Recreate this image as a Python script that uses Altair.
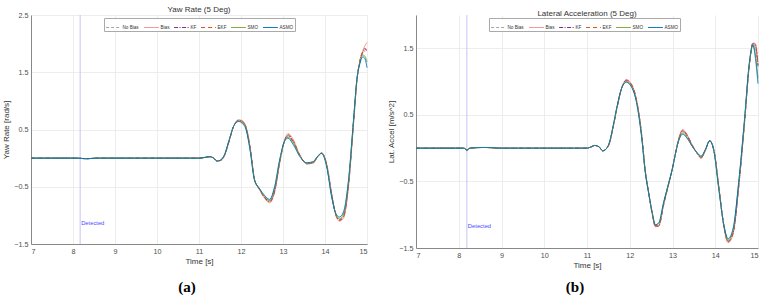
import altair as alt
import pandas as pd

SERIES = ["No Bias", "Bias", "KF", "EKF", "SMO", "ASMO"]
COLORS = ["#a6a6a6", "#f29494", "#7e2f8e", "#d95319", "#77ac30", "#0072bd"]
DASHES = [[3, 2], [1, 0], [4, 1.5, 1, 1.5], [4, 3], [1, 0], [1, 0]]
WIDTHS = [1, 1, 1.2, 1.2, 1.4, 2.2]

# ---------------- Yaw rate panel ----------------
T_YAW = [7.0, 8.1, 8.2, 8.3, 8.6, 11.0, 11.12, 11.25, 11.35, 11.43, 11.52, 11.6, 11.72, 11.82,
         11.94, 12.04, 12.12, 12.22, 12.32, 12.44, 12.56, 12.68, 12.8, 12.92, 13.04, 13.12,
         13.24, 13.4, 13.56, 13.72, 13.82, 13.92, 14.04, 14.16, 14.26, 14.34, 14.44, 14.56,
         14.68, 14.76, 14.83, 14.9, 14.95, 15.0]
YAW_NOBIAS = [0, 0, -0.005, -0.01, 0, 0, 0.01, 0.025, 0.0, -0.05, -0.035, 0.04, 0.31, 0.55,
              0.66, 0.63, 0.53, 0.15, -0.37, -0.54, -0.68, -0.75, -0.56, -0.06, 0.31, 0.40,
              0.29, 0.05, -0.09, -0.07, 0.02, 0.09, -0.12, -0.66, -0.99, -1.07, -1.0, -0.43,
              0.64, 1.37, 1.68, 1.84, 1.87, 1.85]
YAW_BIAS = [0, 0, -0.005, -0.01, 0, 0, 0.01, 0.025, 0.0, -0.05, -0.04, 0.03, 0.30, 0.55,
            0.67, 0.65, 0.55, 0.18, -0.36, -0.55, -0.70, -0.78, -0.60, -0.10, 0.32, 0.43,
            0.33, 0.06, -0.10, -0.09, 0.02, 0.09, -0.10, -0.62, -1.0, -1.10, -1.05, -0.50,
            0.60, 1.35, 1.70, 1.88, 1.96, 2.02]
YAW_KF = [0, 0, -0.005, -0.01, 0, 0, 0.01, 0.025, 0.0, -0.05, -0.035, 0.04, 0.31, 0.55,
          0.66, 0.63, 0.53, 0.16, -0.37, -0.54, -0.68, -0.76, -0.57, -0.07, 0.31, 0.39,
          0.29, 0.05, -0.09, -0.08, 0.02, 0.09, -0.12, -0.65, -0.99, -1.08, -1.02, -0.45,
          0.63, 1.36, 1.69, 1.85, 1.90, 1.88]
YAW_EKF = [0, 0, -0.005, -0.01, 0, 0, 0.01, 0.025, 0.0, -0.05, -0.04, 0.035, 0.30, 0.55,
           0.66, 0.64, 0.54, 0.17, -0.37, -0.55, -0.69, -0.77, -0.58, -0.08, 0.31, 0.41,
           0.31, 0.05, -0.10, -0.08, 0.02, 0.09, -0.11, -0.64, -1.0, -1.09, -1.03, -0.47,
           0.62, 1.36, 1.70, 1.86, 1.92, 1.88]
YAW_SMO = [0, 0, -0.005, -0.01, 0, 0, 0.01, 0.025, 0.0, -0.05, -0.03, 0.045, 0.32, 0.55,
           0.65, 0.62, 0.52, 0.14, -0.37, -0.54, -0.67, -0.74, -0.53, -0.05, 0.30, 0.37,
           0.27, 0.04, -0.09, -0.07, 0.02, 0.09, -0.13, -0.67, -0.98, -1.06, -0.98, -0.41,
           0.66, 1.37, 1.67, 1.80, 1.78, 1.68]
YAW_ASMO = [0, 0, -0.005, -0.01, 0, 0, 0.01, 0.025, 0.0, -0.05, -0.03, 0.05, 0.32, 0.55,
            0.64, 0.60, 0.50, 0.12, -0.38, -0.53, -0.65, -0.72, -0.50, -0.03, 0.30, 0.35,
            0.24, 0.03, -0.08, -0.06, 0.03, 0.08, -0.15, -0.68, -0.97, -1.03, -0.94, -0.38,
            0.68, 1.38, 1.65, 1.77, 1.74, 1.58]

# ---------------- Lateral acceleration panel ----------------
T_LAT = [7.0, 8.12, 8.19, 8.26, 8.6, 9.0, 11.0, 11.1, 11.18, 11.28, 11.37, 11.45, 11.52, 11.6,
         11.7, 11.81, 11.92, 12.02, 12.16, 12.28, 12.36, 12.45, 12.52, 12.6, 12.68, 12.79,
         12.9, 13.0, 13.07, 13.15, 13.24, 13.35, 13.46, 13.58, 13.67, 13.77, 13.87, 13.97,
         14.08, 14.2, 14.3, 14.42, 14.55, 14.68, 14.8, 14.88, 14.94, 15.0]
LAT_NOBIAS = [0, 0, -0.03, 0, 0.01, 0, 0, 0.02, 0.04, 0.02, -0.04, -0.01, 0.07, 0.29, 0.61,
              0.9, 1.01, 0.96, 0.70, 0.18, -0.33, -0.70, -0.96, -1.16, -1.15, -0.85, -0.56,
              -0.30, -0.08, 0.14, 0.25, 0.17, 0.04, -0.08, -0.14, -0.03, 0.11, -0.04, -0.58,
              -1.16, -1.39, -1.25, -0.55, 0.36, 1.27, 1.56, 1.50, 1.22]
LAT_BIAS = [0, 0, -0.03, 0, 0.01, 0, 0, 0.02, 0.04, 0.02, -0.04, -0.01, 0.06, 0.28, 0.60,
            0.9, 1.03, 0.98, 0.72, 0.20, -0.32, -0.70, -0.97, -1.18, -1.17, -0.86, -0.57,
            -0.30, -0.08, 0.15, 0.28, 0.19, 0.05, -0.08, -0.15, -0.03, 0.11, -0.03, -0.56,
            -1.17, -1.42, -1.28, -0.58, 0.34, 1.26, 1.58, 1.57, 1.27]
LAT_KF = [0, 0, -0.03, 0, 0.01, 0, 0, 0.02, 0.04, 0.02, -0.04, -0.01, 0.065, 0.28, 0.60,
          0.9, 1.02, 0.97, 0.71, 0.19, -0.32, -0.70, -0.96, -1.17, -1.16, -0.85, -0.56,
          -0.30, -0.08, 0.14, 0.26, 0.18, 0.04, -0.08, -0.14, -0.03, 0.11, -0.04, -0.57,
          -1.16, -1.40, -1.27, -0.57, 0.35, 1.26, 1.57, 1.54, 1.24]
LAT_EKF = [0, 0, -0.03, 0, 0.01, 0, 0, 0.02, 0.04, 0.02, -0.04, -0.01, 0.06, 0.28, 0.60,
           0.9, 1.02, 0.98, 0.72, 0.20, -0.32, -0.70, -0.97, -1.18, -1.17, -0.86, -0.57,
           -0.30, -0.08, 0.15, 0.27, 0.19, 0.05, -0.08, -0.15, -0.03, 0.11, -0.03, -0.56,
           -1.17, -1.41, -1.27, -0.57, 0.35, 1.26, 1.58, 1.55, 1.26]
LAT_SMO = [0, 0, -0.03, 0, 0.01, 0, 0, 0.02, 0.04, 0.02, -0.04, -0.01, 0.07, 0.29, 0.61,
           0.9, 1.0, 0.95, 0.69, 0.17, -0.34, -0.70, -0.95, -1.15, -1.13, -0.83, -0.55,
           -0.30, -0.08, 0.13, 0.23, 0.15, 0.03, -0.08, -0.13, -0.02, 0.11, -0.05, -0.59,
           -1.15, -1.38, -1.22, -0.52, 0.38, 1.28, 1.55, 1.40, 1.05]
LAT_ASMO = [0, 0, -0.03, 0, 0.01, 0, 0, 0.02, 0.04, 0.02, -0.04, -0.01, 0.08, 0.30, 0.62,
            0.9, 0.99, 0.94, 0.68, 0.15, -0.35, -0.70, -0.95, -1.15, -1.12, -0.82, -0.55,
            -0.30, -0.08, 0.12, 0.21, 0.14, 0.03, -0.07, -0.12, -0.02, 0.11, -0.05, -0.60,
            -1.15, -1.36, -1.20, -0.50, 0.40, 1.30, 1.55, 1.35, 0.97]

DETECT_T_YAW = 8.17
DETECT_T_LAT = 8.19

FONT = "Liberation Sans"


def long_df(times, series_lists):
    rows = []
    for name, vals in zip(SERIES, series_lists):
        for i, (t, v) in enumerate(zip(times, vals)):
            rows.append({"t": t, "v": v, "series": name, "order": i})
    return pd.DataFrame(rows)


def make_panel(times, series_lists, detect_t, detect_y, title, ytitle, ydomain,
               yvalues, label, label_x, width, height):
    df = long_df(times, series_lists)
    leg = alt.Legend(
        orient="none", legendX=73, legendY=3, direction="horizontal", columns=6,
        title=None, labelFontSize=4.6, labelFont=FONT, labelColor="#333",
        symbolType="stroke", symbolSize=220, fillColor="white",
        strokeColor="#aaaaaa", padding=1.5, columnPadding=2, labelOffset=1,
        rowPadding=0, labelLimit=40,
    )
    xscale = alt.Scale(domain=[7, 15], nice=False, zero=False)
    yscale = alt.Scale(domain=ydomain, nice=False, zero=False)
    xaxis = alt.Axis(values=list(range(7, 16)), title="Time [s]", format="~g")
    yaxis = alt.Axis(values=yvalues, title=ytitle, format="~g", labelOverlap=False)
    lines = alt.Chart(df).mark_line(interpolate="monotone").encode(
        x=alt.X("t:Q", scale=xscale, axis=xaxis),
        y=alt.Y("v:Q", scale=yscale, axis=yaxis),
        color=alt.Color("series:N", scale=alt.Scale(domain=SERIES, range=COLORS),
                        sort=SERIES, legend=leg),
        strokeDash=alt.StrokeDash("series:N", scale=alt.Scale(domain=SERIES, range=DASHES),
                                  sort=SERIES, legend=leg),
        strokeWidth=alt.StrokeWidth("series:N", scale=alt.Scale(domain=SERIES, range=WIDTHS),
                                    sort=SERIES, legend=leg),
        order="order:Q",
    )
    ddf = pd.DataFrame({"t": [detect_t], "y": [detect_y], "txt": ["Detected"]})
    rule = alt.Chart(ddf).mark_rule(color="#c4c4f4", strokeWidth=1).encode(x="t:Q")
    dtext = alt.Chart(ddf).mark_text(
        align="left", baseline="middle", dx=1, fontSize=5.8, font=FONT, color="#4a4aff"
    ).encode(x="t:Q", y="y:Q", text="txt:N")
    ldf = pd.DataFrame({"lab": [label]})
    ltext = alt.Chart(ldf).mark_text(
        align="center", baseline="middle", fontSize=15, font="Liberation Serif",
        fontWeight="bold", color="#000"
    ).encode(x=alt.value(label_x), y=alt.value(272), text="lab:N")
    return alt.layer(rule, lines, dtext, ltext).properties(
        width=width, height=height,
        title=alt.TitleParams(title, fontSize=8, font=FONT, fontWeight="normal",
                              color="#333", offset=-3),
    )


left = make_panel(T_YAW, [YAW_NOBIAS, YAW_BIAS, YAW_KF, YAW_EKF, YAW_SMO, YAW_ASMO],
                  DETECT_T_YAW, -1.13, "Yaw Rate (5 Deg)", "Yaw Rate [rad/s]", [-1.5, 2.5],
                  [-1.5, -1, -0.5, 0, 0.5, 1, 1.5, 2, 2.5], "(a)", 156, 336, 229)
right = make_panel(T_LAT, [LAT_NOBIAS, LAT_BIAS, LAT_KF, LAT_EKF, LAT_SMO, LAT_ASMO],
                   DETECT_T_LAT, -1.17, "Lateral Acceleration (5 Deg)", "Lat. Accel [m/s^2]",
                   [-1.5, 2], [-1.5, -1, -0.5, 0, 0.5, 1, 1.5, 2], "(b)", 159, 342, 233)

chart = alt.hconcat(left, right, spacing=18).resolve_legend(
    color="independent", strokeDash="independent", strokeWidth="independent"
).properties(
    padding={"left": 2, "top": 6, "right": 2, "bottom": 0},
    background="white",
).configure_view(stroke=None).configure_axis(
    labelFont=FONT, titleFont=FONT, labelFontSize=7.2, titleFontSize=8,
    labelColor="#4d4d4d", titleColor="#333", titleFontWeight="normal",
    gridColor="#e8e8e8", gridWidth=0.8, domainColor="#888", ticks=False,
    labelPadding=3, titlePadding=3,
)

chart.save("out.html", embed_options={"renderer": "svg", "actions": False})
